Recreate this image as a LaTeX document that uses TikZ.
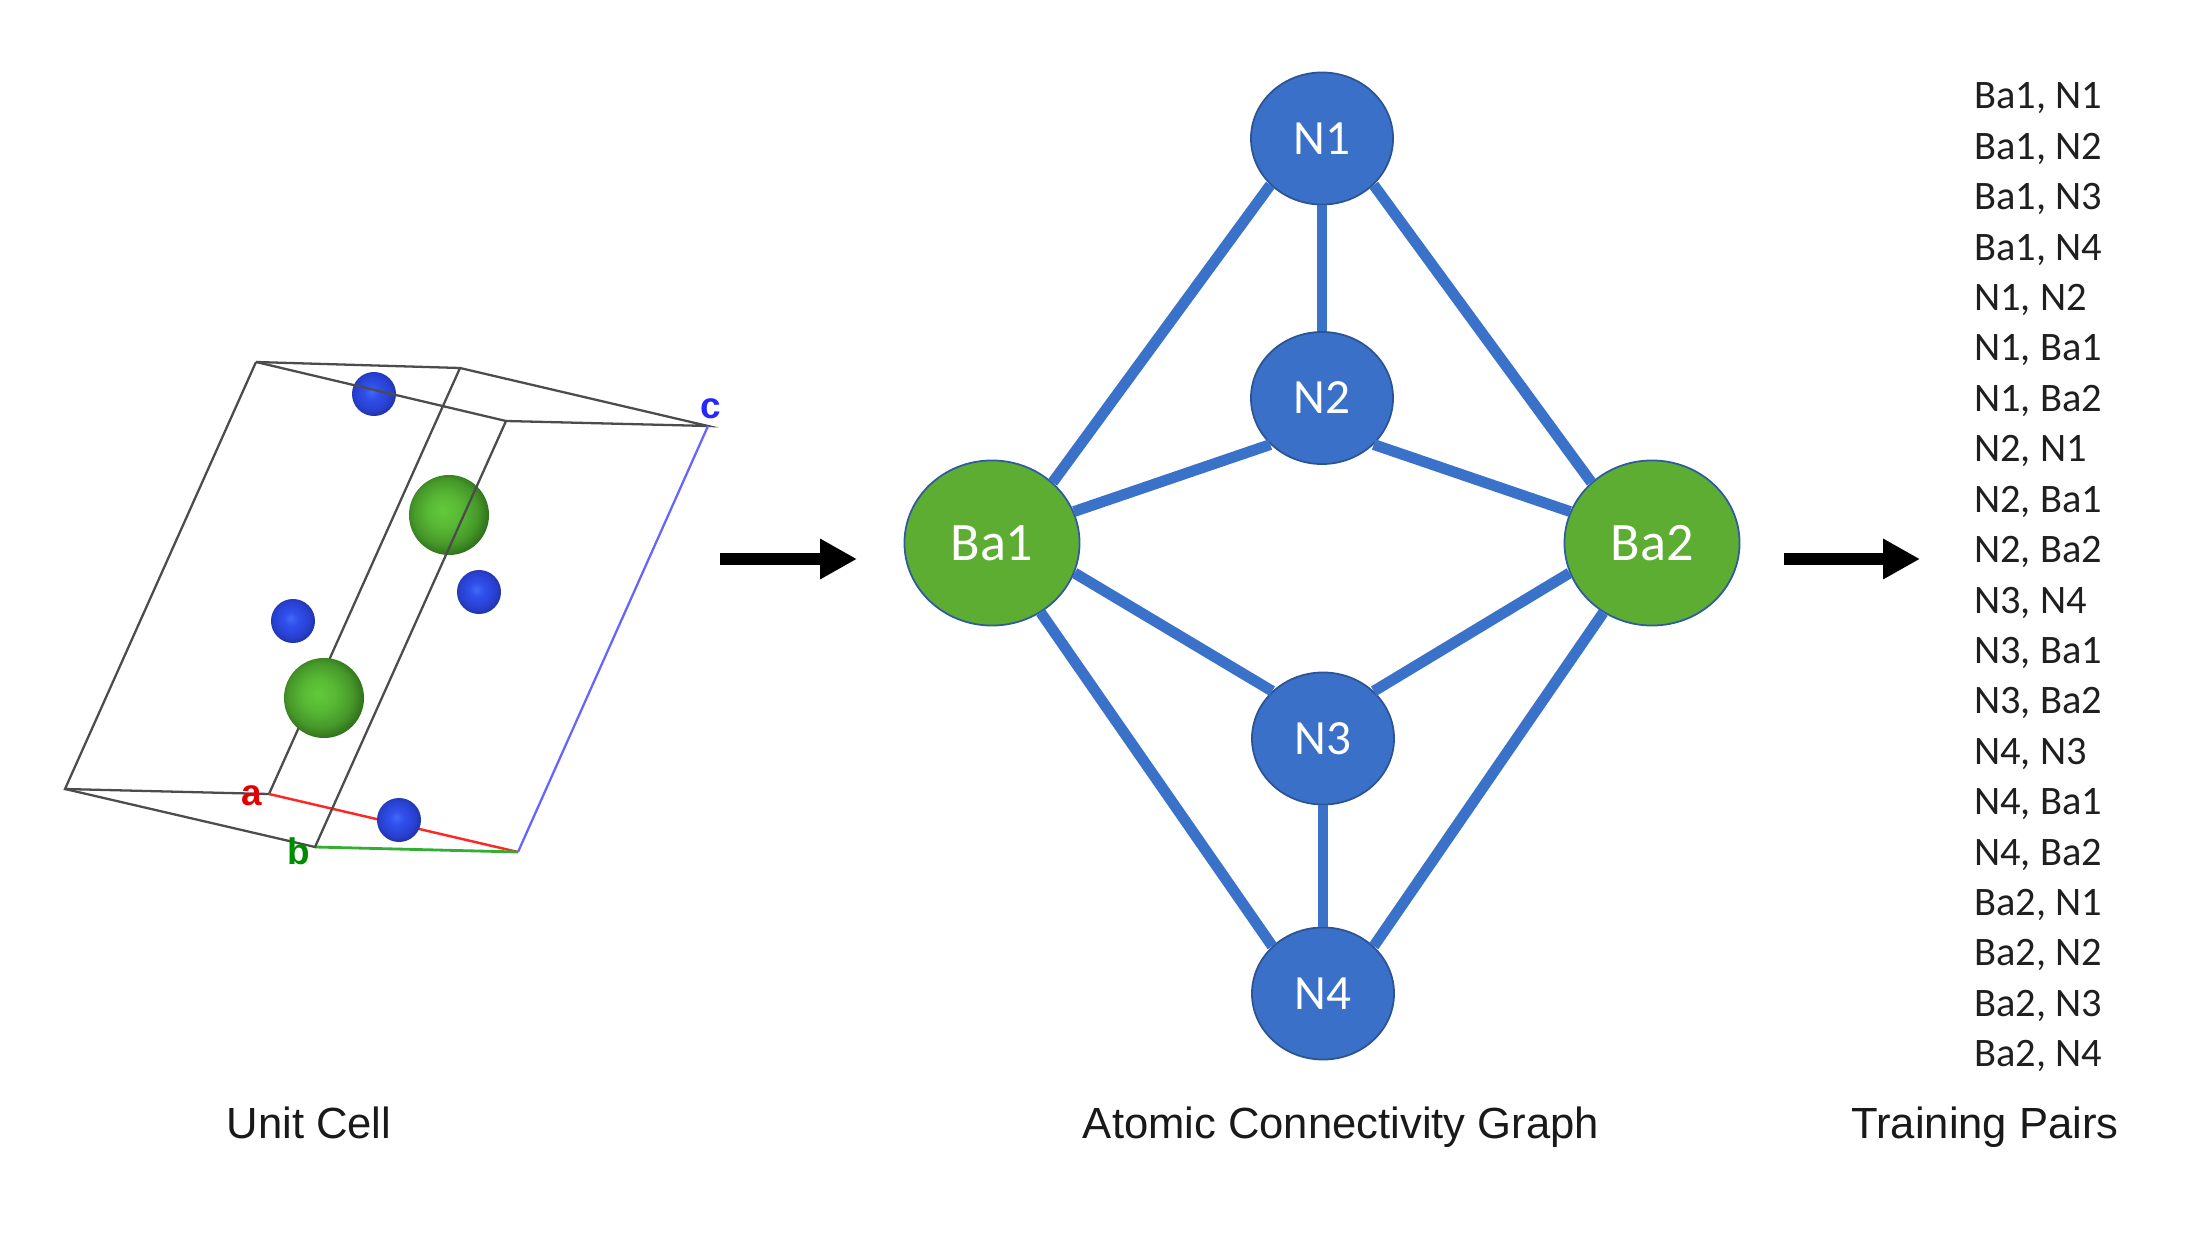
\documentclass[tikz,border=0pt]{standalone}
\usepackage{fontspec}
\setmainfont{Carlito}
\newfontfamily\captionfont{Liberation Sans}
\usetikzlibrary{shapes.geometric,arrows.meta}
\definecolor{bondblue}{HTML}{3A71C9}
\definecolor{nitrogen}{HTML}{3A70C7}
\definecolor{barium}{HTML}{5EAD33}
\definecolor{nlight}{HTML}{4468F8}
\definecolor{nmid}{HTML}{3050EC}
\definecolor{ndark}{HTML}{2840D0}
\definecolor{nedge}{HTML}{1E30A0}
\definecolor{balight}{HTML}{62C93C}
\definecolor{bamid}{HTML}{58B934}
\definecolor{badark}{HTML}{47992A}
\definecolor{baedge}{HTML}{2C6A18}
\pgfdeclareradialshading{bluesphere}{\pgfpoint{-3bp}{3bp}}{color(0bp)=(nlight);
  color(8bp)=(nmid); color(20bp)=(ndark); color(28bp)=(nedge); color(50bp)=(nedge)}
\pgfdeclareradialshading{greensphere}{\pgfpoint{-4bp}{3bp}}{color(0bp)=(balight);
  color(10bp)=(bamid); color(20bp)=(badark); color(28bp)=(baedge); color(50bp)=(baedge)}
\tikzset{
  nnode/.style={ellipse,draw=nitrogen!75!black,line width=0.5pt,fill=nitrogen,text=white,inner sep=0pt,
    minimum width=1.42cm,minimum height=1.32cm,font=\fontsize{14}{16}\selectfont},
  banode/.style={ellipse,draw=nitrogen!80!black,line width=0.5pt,fill=barium,text=white,inner sep=0pt,
    minimum width=1.75cm,minimum height=1.65cm,font=\fontsize{15.4}{18}\selectfont},
  bond/.style={bondblue,line width=3.1pt},
  cell/.style={black!70,line width=0.65pt},
  nsphere/.style={circle,shade,shading=bluesphere,inner sep=0pt,minimum size=0.44cm},
  basphere/.style={circle,shade,shading=greensphere,inner sep=0pt,minimum size=0.8cm},
  axis/.style={font=\captionfont\bfseries\fontsize{10.5}{12}\selectfont,inner sep=0pt},
  pair/.style={anchor=base west,inner sep=0pt,text=black!88,font=\fontsize{11.5}{13}\selectfont},
  caption/.style={anchor=base,inner sep=0pt,font=\captionfont\fontsize{12.4}{15}\selectfont,text=black!90},
  flow/.style={-{Triangle[length=10.5pt,width=10.8pt]},line width=3.4pt}
}
\begin{document}
\begin{tikzpicture}[x=0.01cm,y=-0.01cm]
  \useasboundingbox (0,0) rectangle (2198,1240);

  % Unit cell
  \begin{scope}
    \coordinate (tl) at (256,362);
    \coordinate (tb) at (460,368);
    \coordinate (tf) at (506,421);
    \coordinate (c0) at (708,426);
    \coordinate (bl) at (65,789);
    \coordinate (a0) at (269,794);
    \coordinate (b0) at (315,847);
    \coordinate (o0) at (518,852);
    \draw[cell] (tl) -- (tb) -- (c0) -- (tf);
    \draw[cell] (tl) -- (bl) -- (a0) -- (tb);
    \draw[red!85!white,line width=0.7pt] (a0) -- (o0);
    \draw[green!60!black!80!white,line width=0.8pt] (b0) -- (o0);
    \draw[blue!60!white,line width=0.65pt] (o0) -- (c0);
    \node[nsphere] (atom1) at (374,394) {};
    \node[nsphere] (atom2) at (479,592) {};
    \node[nsphere] (atom3) at (293,621) {};
    \node[nsphere] (atom4) at (399,820) {};
    \node[basphere] (atom5) at (449,515) {};
    \node[basphere] (atom6) at (324,698) {};
    \draw[cell] (tl) -- (tf) -- (b0) -- (bl);
    \node[axis,text=red!90!black] (axisa) at (252,796) {a};
    \node[axis,text=green!55!black] (axisb) at (299,851) {b};
    \node[axis,text=blue!85!white] (axisc) at (711,409) {c};
    \node[caption] (cap1) at (309,1138) {Unit Cell};
  \end{scope}

  % Connectivity graph
  \node[nnode] (N1) at (1322,138.5) {N1};
  \node[nnode] (N2) at (1322,398) {N2};
  \node[nnode] (N3) at (1323,738.5) {N3};
  \node[nnode] (N4) at (1323,993.5) {N4};
  \node[banode] (Ba1) at (992,543) {Ba1};
  \node[banode] (Ba2) at (1652,543) {Ba2};
  \draw[bond] (N1.222) -- (Ba1.45);
  \draw[bond] (N1.-42) -- (Ba2.135);
  \draw[bond] (N1) -- (N2);
  \draw[bond] (N2.222) -- (Ba1.21);
  \draw[bond] (N2.-42) -- (Ba2.159);
  \draw[bond] (Ba1.-20) -- (N3.137);
  \draw[bond] (Ba2.200) -- (N3.43);
  \draw[bond] (Ba1.-55) -- (N4.137);
  \draw[bond] (Ba2.235) -- (N4.43);
  \draw[bond] (N3) -- (N4);
  \node[caption] (cap2) at (1341,1138) {Atomic Connectivity Graph};

  % Arrows
  \coordinate (in1) at (720,559);
  \coordinate (out1) at (857,559);
  \coordinate (in2) at (1784,559);
  \coordinate (out2) at (1920,559);
  \draw[flow] (in1) -- (out1);
  \draw[flow] (in2) -- (out2);

  % Training pairs
  \foreach \txt [count=\i from 0] in {{Ba1, N1},{Ba1, N2},{Ba1, N3},{Ba1, N4},{N1, N2},{N1, Ba1},{N1, Ba2},
      {N2, N1},{N2, Ba1},{N2, Ba2},{N3, N4},{N3, Ba1},{N3, Ba2},{N4, N3},{N4, Ba1},{N4, Ba2},
      {Ba2, N1},{Ba2, N2},{Ba2, N3},{Ba2, N4}}
    \node[pair] (pair\i) at (1973.5,109+50.4*\i) {\txt};
  \node[caption] (cap3) at (1985,1138) {Training Pairs};
\end{tikzpicture}
\end{document}
